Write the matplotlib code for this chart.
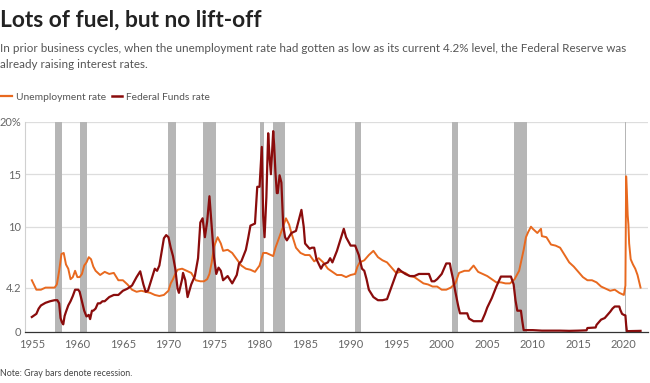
import matplotlib
matplotlib.use("Agg")
import matplotlib.pyplot as plt
from matplotlib.lines import Line2D

# ---------------- data ----------------
unemp_t = [1955.0, 1955.5, 1956.0, 1956.5, 1957.0, 1957.5, 1957.75, 1958.0, 1958.25, 1958.5,
           1958.75, 1959.0, 1959.25, 1959.5, 1959.75, 1960.0, 1960.25, 1960.5, 1960.75, 1961.0,
           1961.25, 1961.5, 1961.75, 1962.0, 1962.5, 1963.0, 1963.5, 1964.0, 1964.5, 1965.0,
           1965.5, 1966.0, 1966.5, 1967.0, 1967.5, 1968.0, 1968.5, 1969.0, 1969.5, 1970.0,
           1970.25, 1970.5, 1970.75, 1971.0, 1971.5, 1972.0, 1972.5, 1973.0, 1973.5, 1973.9,
           1974.25, 1974.5, 1974.75, 1975.0, 1975.4, 1975.75, 1976.0, 1976.5, 1977.0, 1977.5,
           1978.0, 1978.5, 1979.0, 1979.5, 1980.0, 1980.4, 1980.75, 1981.0, 1981.5, 1981.75,
           1982.0, 1982.5, 1982.9, 1983.25, 1983.5, 1984.0, 1984.5, 1985.0, 1985.5, 1986.0,
           1986.5, 1987.0, 1987.5, 1988.0, 1988.5, 1989.0, 1989.5, 1990.0, 1990.5, 1990.75,
           1991.0, 1991.5, 1992.0, 1992.5, 1993.0, 1993.5, 1994.0, 1994.5, 1995.0, 1995.5,
           1996.0, 1996.5, 1997.0, 1997.5, 1998.0, 1998.5, 1999.0, 1999.5, 2000.0, 2000.5,
           2001.0, 2001.5, 2001.9, 2002.5, 2003.0, 2003.5, 2004.0, 2004.5, 2005.0, 2005.5,
           2006.0, 2006.5, 2007.0, 2007.5, 2008.0, 2008.5, 2008.75, 2009.0, 2009.25, 2009.5,
           2009.8, 2010.0, 2010.5, 2010.9, 2011.0, 2011.5, 2012.0, 2012.5, 2013.0, 2013.5,
           2014.0, 2014.5, 2015.0, 2015.5, 2016.0, 2016.5, 2017.0, 2017.5, 2018.0, 2018.5,
           2019.0, 2019.5, 2020.0, 2020.17, 2020.25, 2020.33, 2020.42, 2020.5, 2020.58, 2020.75,
           2021.0, 2021.25, 2021.5, 2021.67, 2021.83]
unemp_v = [4.9, 4.0, 4.0, 4.2, 4.2, 4.2, 4.5, 5.8, 7.4, 7.5,
           6.4, 6.0, 5.0, 5.2, 5.8, 5.2, 5.2, 5.5, 6.3, 6.6,
           7.1, 6.9, 6.2, 5.8, 5.4, 5.7, 5.5, 5.6, 4.9, 4.9,
           4.5, 4.0, 3.8, 3.9, 3.8, 3.7, 3.5, 3.4, 3.5, 3.9,
           4.6, 5.0, 5.5, 5.9, 6.0, 5.8, 5.6, 4.9, 4.8, 4.8,
           5.0, 5.5, 6.6, 8.1, 9.0, 8.4, 7.7, 7.8, 7.5, 6.9,
           6.3, 6.0, 5.9, 5.7, 6.3, 7.5, 7.5, 7.4, 7.2, 8.0,
           8.6, 9.8, 10.8, 10.2, 9.4, 8.0, 7.5, 7.3, 7.3, 6.7,
           7.0, 6.6, 6.0, 5.7, 5.4, 5.4, 5.2, 5.4, 5.5, 6.2,
           6.6, 6.8, 7.3, 7.7, 7.1, 6.8, 6.6, 6.1, 5.6, 5.7,
           5.6, 5.3, 5.2, 4.9, 4.6, 4.5, 4.3, 4.3, 4.0, 4.0,
           4.2, 4.6, 5.6, 5.8, 5.8, 6.3, 5.7, 5.5, 5.3, 5.0,
           4.7, 4.7, 4.6, 4.6, 5.0, 5.8, 6.8, 7.8, 9.0, 9.5,
           10.0, 9.8, 9.4, 9.8, 9.1, 9.0, 8.3, 8.2, 8.0, 7.3,
           6.6, 6.2, 5.7, 5.2, 4.9, 4.9, 4.7, 4.3, 4.1, 3.9,
           4.0, 3.7, 3.5, 4.4, 14.8, 13.3, 11.1, 10.2, 8.4, 6.9,
           6.4, 6.0, 5.4, 4.8, 4.2]

ff_t = [1955.0, 1955.5, 1955.75, 1956.0, 1956.5, 1957.0, 1957.5, 1957.8, 1958.0, 1958.15,
        1958.3, 1958.45, 1958.6, 1958.75, 1959.0, 1959.25, 1959.5, 1959.75, 1959.9, 1960.1,
        1960.25, 1960.5, 1960.75, 1961.0, 1961.25, 1961.4, 1961.6, 1961.75, 1962.0, 1962.25,
        1962.5, 1962.75, 1963.0, 1963.5, 1964.0, 1964.5, 1965.0, 1965.5, 1966.0, 1966.5,
        1966.9, 1967.25, 1967.5, 1967.75, 1968.0, 1968.5, 1968.75, 1969.0, 1969.5, 1969.75,
        1970.0, 1970.25, 1970.5, 1970.75, 1971.0, 1971.15, 1971.5, 1971.6, 1971.85, 1972.1,
        1972.5, 1972.9, 1973.25, 1973.5, 1973.75, 1974.0, 1974.25, 1974.5, 1974.75, 1975.0,
        1975.25, 1975.5, 1975.75, 1976.0, 1976.5, 1977.0, 1977.5, 1977.75, 1978.0, 1978.5,
        1978.75, 1979.0, 1979.5, 1979.75, 1980.0, 1980.25, 1980.4, 1980.55, 1980.75, 1980.95,
        1981.1, 1981.25, 1981.5, 1981.6, 1981.75, 1981.9, 1982.0, 1982.2, 1982.4, 1982.6,
        1982.8, 1983.0, 1983.5, 1983.75, 1984.0, 1984.6, 1984.85, 1985.0, 1985.5, 1985.75,
        1986.0, 1986.25, 1986.75, 1987.0, 1987.5, 1987.75, 1988.0, 1988.5, 1989.0, 1989.25,
        1989.5, 1989.75, 1990.0, 1990.5, 1990.9, 1991.0, 1991.25, 1991.5, 1991.75, 1992.0,
        1992.5, 1993.0, 1993.5, 1994.0, 1994.5, 1995.0, 1995.25, 1995.5, 1996.0, 1996.5,
        1997.0, 1997.5, 1998.0, 1998.6, 1998.9, 1999.2, 1999.5, 2000.0, 2000.5, 2000.9,
        2001.0, 2001.25, 2001.5, 2001.8, 2002.0, 2002.8, 2003.0, 2003.5, 2004.4, 2004.75,
        2005.0, 2005.5, 2006.0, 2006.5, 2007.0, 2007.6, 2007.9, 2008.1, 2008.3, 2008.7,
        2008.85, 2009.0, 2010.0, 2011.0, 2012.0, 2013.0, 2014.0, 2015.0, 2015.9, 2016.0,
        2016.9, 2017.0, 2017.25, 2017.5, 2017.9, 2018.0, 2018.3, 2018.5, 2018.75, 2019.0,
        2019.5, 2019.6, 2019.8, 2020.0, 2020.17, 2020.25, 2020.33, 2021.83]
ff_v = [1.4, 1.7, 2.2, 2.5, 2.75, 2.9, 3.0, 3.0, 2.7, 1.3,
        0.9, 0.7, 1.5, 1.9, 2.5, 2.9, 3.4, 4.0, 4.0, 4.0,
        3.8, 2.9, 2.0, 1.45, 1.6, 1.2, 2.0, 2.0, 2.2, 2.7,
        2.7, 2.9, 2.9, 3.3, 3.5, 3.5, 3.9, 4.1, 4.4, 5.2,
        5.75, 4.5, 3.8, 3.9, 4.6, 6.0, 5.8, 6.3, 8.9, 9.2,
        9.0, 8.0, 7.2, 6.0, 4.1, 3.7, 5.0, 5.6, 4.9, 3.3,
        4.5, 5.3, 7.0, 10.4, 10.8, 9.0, 10.5, 12.9, 10.0, 7.1,
        5.5, 6.1, 5.8, 4.9, 5.3, 4.6, 5.4, 6.5, 6.7, 7.8,
        8.9, 10.1, 10.3, 13.8, 13.8, 17.6, 11.0, 9.0, 12.8, 18.9,
        16.6, 15.0, 19.1, 17.8, 15.1, 13.2, 13.2, 14.9, 14.2, 10.1,
        9.0, 8.7, 9.4, 9.5, 9.6, 11.6, 10.0, 8.4, 7.9, 8.0,
        8.0, 6.9, 6.0, 6.4, 6.6, 7.0, 6.6, 7.7, 9.1, 9.8,
        9.0, 8.6, 8.2, 8.2, 7.3, 6.9, 6.0, 5.8, 5.0, 4.0,
        3.3, 3.0, 3.0, 3.1, 4.3, 5.5, 6.0, 5.8, 5.5, 5.3,
        5.3, 5.5, 5.5, 5.5, 4.8, 4.8, 5.0, 5.5, 6.5, 6.5,
        6.0, 5.0, 3.8, 2.5, 1.75, 1.75, 1.25, 1.0, 1.0, 1.7,
        2.3, 3.2, 4.3, 5.25, 5.25, 5.25, 4.5, 3.0, 2.0, 2.0,
        1.0, 0.15, 0.15, 0.1, 0.1, 0.1, 0.08, 0.1, 0.13, 0.35,
        0.4, 0.65, 0.9, 1.15, 1.3, 1.4, 1.7, 1.9, 2.2, 2.4,
        2.4, 2.1, 1.7, 1.6, 1.55, 0.65, 0.05, 0.08]

recessions = [(1957.58, 1958.33), (1960.25, 1961.08), (1969.92, 1970.83), (1973.83, 1975.17),
              (1980.0, 1980.5), (1981.5, 1982.83), (1990.5, 1991.17), (2001.17, 2001.83),
              (2007.92, 2009.42), (2020.08, 2020.25)]

yticks = [0, 4.2, 10, 15, 20]
ytick_labels = ["0", "4.2", "10", "15", "20%"]
xticks = list(range(1955, 2021, 5))

# ---------------- style ----------------
plt.rcParams['font.family'] = ['Lato', 'DejaVu Sans']
ORANGE = "#e8691f"
DARKRED = "#8a0c0c"
GRAY_TXT = "#666666"

fig = plt.figure(figsize=(6.5, 3.83), dpi=100)
ax = fig.add_axes([25/650, 51.3/383, 623/650, 210/383])

for a, b in recessions:
    ax.axvspan(a, b, color="#b6b6b6", lw=0, zorder=1)

for y in yticks:
    if y != 0:
        ax.axhline(y, color="#dddddd", lw=0.9, zorder=0)

ax.plot(unemp_t, unemp_v, color=ORANGE, lw=1.4, zorder=3)
ax.plot(ff_t, ff_v, color=DARKRED, lw=1.6, zorder=4)

ax.set_xlim(1954.25, 2022.65)
ax.set_ylim(0, 20)
ax.set_yticks(yticks)
ax.set_yticklabels(ytick_labels)
ax.set_xticks(xticks)
ax.set_xticklabels([str(x) for x in xticks])
ax.tick_params(axis='both', length=0, colors=GRAY_TXT, labelsize=8)
ax.tick_params(axis='x', pad=5)
ax.tick_params(axis='y', pad=3)
for s in ['top', 'right']:
    ax.spines[s].set_visible(False)
ax.spines['left'].set_color("#d0d0d0")
ax.spines['left'].set_linewidth(0.8)
ax.spines['bottom'].set_color("#333333")
ax.spines['bottom'].set_linewidth(0.9)
ax.spines['bottom'].set_zorder(5)

fig.text(0.0, 1 - 20/383, "Lots of fuel, but no lift-off", fontsize=16.4, fontweight='bold',
         color="#222222", va='center', ha='left')
fig.text(0.0, 1 - 49/383, "In prior business cycles, when the unemployment rate had gotten as low as its current 4.2% level, the Federal Reserve was",
         fontsize=8.35, color="#555555", va='center', ha='left')
fig.text(0.0, 1 - 64/383, "already raising interest rates.",
         fontsize=8.35, color="#555555", va='center', ha='left')

handles = [Line2D([0], [0], color=ORANGE, lw=1.6), Line2D([0], [0], color=DARKRED, lw=1.8)]
fig.legend(handles, ["Unemployment rate", "Federal Funds rate"], loc='center left',
           bbox_to_anchor=(-0.012, 1 - 97/383), ncol=2, frameon=False, fontsize=7.35,
           handlelength=1.0, handletextpad=0.4, columnspacing=0.6, labelcolor="#555555")

fig.text(0.0, 1 - 373/383, "Note: Gray bars denote recession.", fontsize=6.4, color="#444444",
         va='center', ha='left')

fig.savefig("out.png", dpi=100)
